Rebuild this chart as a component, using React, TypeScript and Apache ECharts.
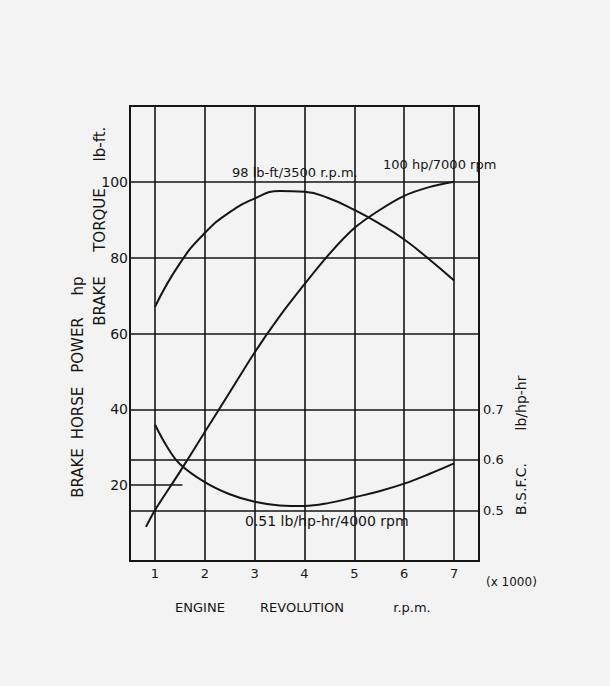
import React, { useEffect, useRef } from "react";
import * as echarts from "echarts";

// Engine speed (x 1000 rpm)
const torqueRpm = [1, 1.5, 2, 2.5, 3, 3.5, 4, 4.5, 5, 5.5, 6, 6.5, 7];
// Brake torque, lb-ft
const torque = [67, 78.5, 86.5, 92, 95.6, 97.6, 97.4, 95.6, 92.6, 89, 84.8, 79.6, 74];

const powerRpm = [0.82, 1, 1.5, 2, 2.5, 3, 3.5, 4, 4.5, 5, 5.5, 6, 6.5, 7];
// Brake horse power, hp
const power = [9, 13.4, 23.5, 34, 44.5, 55, 64.5, 73, 81, 87.8, 92.5, 96.3, 98.6, 100];

const bsfcRpm = [1, 1.25, 1.5, 2, 2.5, 3, 3.5, 4, 4.5, 5, 5.5, 6, 6.5, 7];
// B.S.F.C., lb/hp-hr
const bsfc = [0.67, 0.625, 0.592, 0.556, 0.532, 0.517, 0.51, 0.509, 0.515, 0.526, 0.538, 0.553, 0.572, 0.593];

const xTicks = [1, 2, 3, 4, 5, 6, 7];
const leftTicks = [20, 40, 60, 80, 100];
const leftGridLines = [40, 60, 80, 100];
const rightTicks = [0.5, 0.6, 0.7];
const rightGridLines = [0.5, 0.6];

const INK = "#151515";
const FONT = "DejaVu Sans";

const pair = (xs: number[], ys: number[]) => xs.map((x, i) => [x, ys[i]]);
const near = (v: number, list: number[]) => list.some((t) => Math.abs(v - t) < 1e-6);

const txt = (text: string, x: number, y: number, size: number, opts: any = {}) => ({
  type: "text",
  x,
  y,
  rotation: opts.rotation || 0,
  style: {
    text,
    fill: INK,
    font: `${size}px "${FONT}"`,
    align: opts.align || "left",
    verticalAlign: "middle",
  },
});

const vtxt = (text: string, x: number, y: number, size: number) =>
  txt(text, x, y, size, { rotation: Math.PI / 2, align: "center" });

export default function App() {
  const ref = useRef<HTMLDivElement>(null);
  useEffect(() => {
    if (!ref.current) return;
    const chart = echarts.init(ref.current, null, { renderer: "svg" });
    const gridLine = { color: INK, width: 1.6, type: "solid" as const };
    chart.setOption({
      animation: false,
      backgroundColor: "#f3f3f3",
      grid: {
        show: true,
        left: 130,
        right: 131,
        top: 106,
        bottom: 125,
        borderColor: INK,
        borderWidth: 2,
        backgroundColor: "transparent",
      },
      xAxis: {
        type: "value",
        min: 0.5,
        max: 7.5,
        interval: 0.5,
        axisLine: { show: false },
        axisTick: { show: false },
        splitLine: { show: false },
        axisLabel: {
          margin: 6,
          color: INK,
          fontFamily: FONT,
          fontSize: 13,
          formatter: (v: number) => (near(v, xTicks) ? String(Math.round(v)) : ""),
        },
      },
      yAxis: [
        {
          type: "value",
          min: 0,
          max: 120,
          interval: 20,
          axisLine: { show: false },
          axisTick: { show: false },
          splitLine: { show: false },
          axisLabel: {
            margin: 2,
            color: INK,
            fontFamily: FONT,
            fontSize: 14,
            formatter: (v: number) => (near(v, leftTicks) ? String(v) : ""),
          },
        },
        {
          type: "value",
          min: 0.4,
          max: 1.3,
          interval: 0.1,
          position: "right",
          axisLine: { show: false },
          axisTick: { show: false },
          splitLine: { show: false },
          axisLabel: {
            margin: 4,
            color: INK,
            fontFamily: FONT,
            fontSize: 13,
            formatter: (v: number) => (near(v, rightTicks) ? v.toFixed(1) : ""),
          },
        },
      ],
      series: [
        {
          type: "line",
          name: "Brake torque",
          data: pair(torqueRpm, torque),
          smooth: 0.5,
          showSymbol: false,
          lineStyle: { color: INK, width: 2 },
          yAxisIndex: 0,
          z: 5,
        },
        {
          type: "line",
          name: "Brake horse power",
          data: pair(powerRpm, power),
          smooth: 0.3,
          showSymbol: false,
          lineStyle: { color: INK, width: 2 },
          yAxisIndex: 0,
          z: 5,
          markLine: {
            silent: true,
            symbol: "none",
            label: { show: false },
            lineStyle: gridLine,
            data: [
              ...leftGridLines.map((v) => ({ yAxis: v })),
              ...xTicks.map((v) => ({ xAxis: v })),
              [{ coord: [0.5, 20] }, { coord: [1.55, 20] }],
            ],
          },
        },
        {
          type: "line",
          name: "B.S.F.C.",
          data: pair(bsfcRpm, bsfc),
          smooth: 0.4,
          showSymbol: false,
          lineStyle: { color: INK, width: 2 },
          yAxisIndex: 1,
          z: 5,
          markLine: {
            silent: true,
            symbol: "none",
            label: { show: false },
            lineStyle: gridLine,
            data: rightGridLines.map((v) => ({ yAxis: v })),
          },
        },
      ],
      graphic: [
        txt("98 lb-ft/3500 r.p.m.", 232, 172, 13),
        txt("100 hp/7000 rpm", 383, 164, 13),
        txt("0.51 lb/hp-hr/4000 rpm", 245, 521, 14),
        txt("(x 1000)", 486, 582, 12),
        txt("ENGINE", 200, 607, 13, { align: "center" }),
        txt("REVOLUTION", 302, 607, 13, { align: "center" }),
        txt("r.p.m.", 412, 607, 13, { align: "center" }),
        vtxt("BRAKE", 78, 473, 15),
        vtxt("HORSE", 78, 413, 15),
        vtxt("POWER", 78, 345, 15),
        vtxt("hp", 78, 286, 15),
        vtxt("BRAKE", 100, 301, 15),
        vtxt("TORQUE", 100, 220, 15),
        vtxt("lb-ft.", 100, 144, 15),
        vtxt("B.S.F.C.", 521, 489, 14),
        vtxt("lb/hp-hr", 521, 403, 14),
      ],
    });
    return () => chart.dispose();
  }, []);
  return (
    <div
      ref={ref}
      style={{ position: "fixed", left: 0, top: 0, width: 610, height: 686, background: "#f3f3f3" }}
    />
  );
}
